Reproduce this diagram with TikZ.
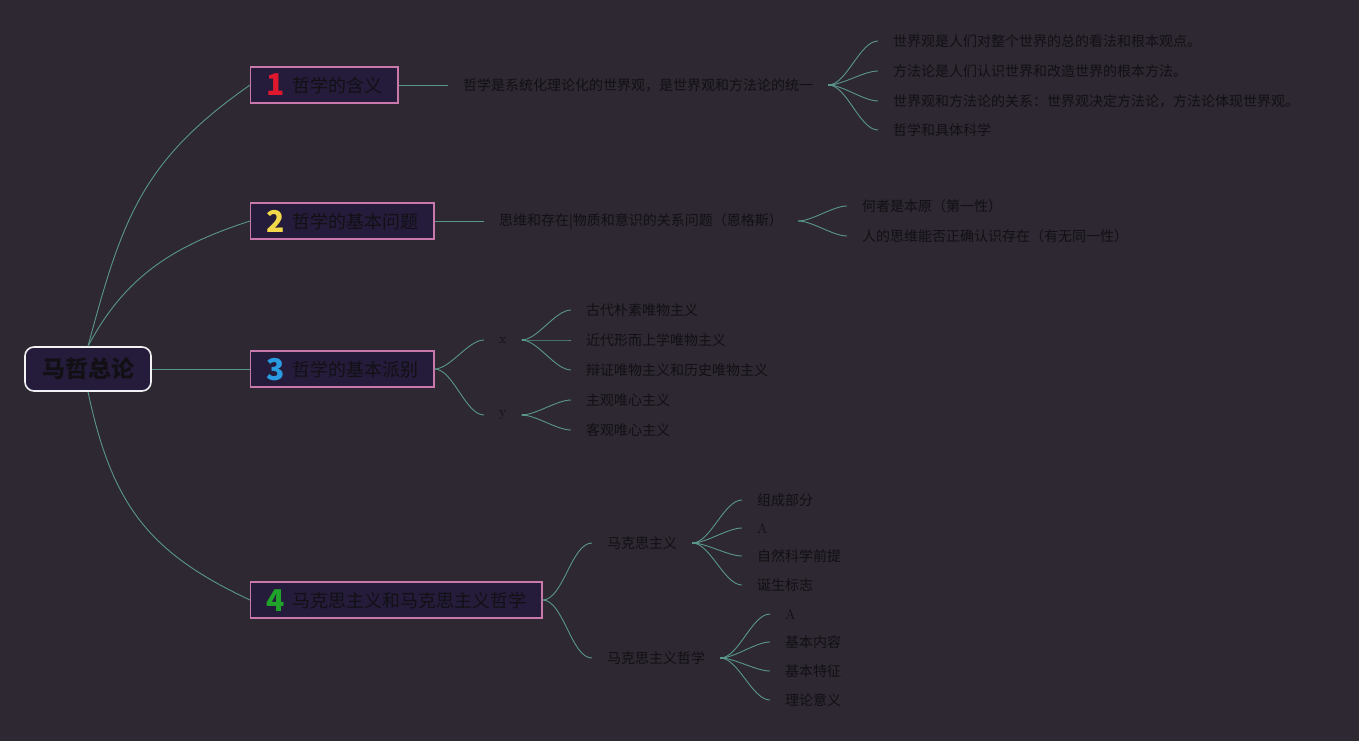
\documentclass[tikz,border=0pt]{standalone}
\usepackage{fontspec}
\usepackage{tikz}
\usetikzlibrary{positioning}
\newfontfamily\cjk{Noto Sans CJK SC}
\definecolor{mapbg}{HTML}{2D2832}
\definecolor{topicfill}{HTML}{251C3C}
\definecolor{topicpink}{HTML}{C878AA}
\definecolor{rootwhite}{HTML}{F2F2F2}
\definecolor{linkteal}{HTML}{5A968C}
\definecolor{ink}{HTML}{121014}
\definecolor{numred}{HTML}{E0182D}
\definecolor{numyellow}{HTML}{F2D84A}
\definecolor{numblue}{HTML}{2A9BE0}
\definecolor{numgreen}{HTML}{1FA32A}
\tikzset{
  root/.style={
    draw=rootwhite, fill=topicfill, line width=1.6pt,
    rounded corners=9pt, inner sep=0pt,
    minimum width=126pt, minimum height=44pt,
    font=\cjk\bfseries\fontsize{23}{25}\selectfont, text=ink
  },
  topic/.style={
    draw=topicpink, fill=topicfill, line width=1.3pt,
    anchor=west, inner xsep=15.5pt, inner ysep=0pt,
    minimum height=36pt, text height=17pt, text depth=2pt,
    font=\cjk\fontsize{18}{20}\selectfont, text=ink
  },
  sub/.style={
    anchor=west, inner xsep=15pt, inner ysep=2pt,
    font=\cjk\fontsize{14}{16}\selectfont, text=ink
  },
  latin/.style={font=\fontsize{14}{16}\selectfont},
  leaf/.style={sub},
  link/.style={draw=linkteal, line width=0.9pt},
  fan/.style={link, out=0, in=180, looseness=0.7},
  stub/.style={draw=linkteal, line width=2.6pt},
}
\newcommand{\topicnum}[2]{\raisebox{-3.5pt}[0pt][0pt]{\color{#1}\bfseries\fontsize{30}{30}\selectfont #2}\hspace{8pt}}

\begin{document}
\begin{tikzpicture}[x=1pt, y=-1pt]
  \fill[mapbg] (0,0) rectangle (1359,741);
  \useasboundingbox (0,0) rectangle (1359,741);

  \node[root] (mazhe) at (88,369) {马哲总论};

  \node[topic] (hanyi)  at (250,85)  {\topicnum{numred}{1}哲学的含义};
  \node[topic] (wenti)  at (250,221) {\topicnum{numyellow}{2}哲学的基本问题};
  \node[topic] (paibie) at (250,369) {\topicnum{numblue}{3}哲学的基本派别};
  \node[topic] (makesi) at (250,600) {\topicnum{numgreen}{4}马克思主义和马克思主义哲学};

  \draw[link] (mazhe.north) to[out=75, in=215, looseness=1.1] (hanyi.west);
  \draw[link] (mazhe.north) to[out=62, in=198] (wenti.west);
  \draw[link] (mazhe.east) -- (paibie.west);
  \draw[link] (mazhe.south) to[out=-78, in=155, looseness=1.1] (makesi.west);

  \node[sub] (tongyi) at (448,85)  {哲学是系统化理论化的世界观，是世界观和方法论的统一};
  \node[sub] (guanxi) at (484,221) {思维和存在|物质和意识的关系问题（恩格斯）};
  \node[sub, latin] (px) at (484,340) {x};
  \node[sub, latin] (py) at (484,415) {y};
  \node[sub] (mks)   at (592,543) {马克思主义};
  \node[sub] (mkszx) at (592,658) {马克思主义哲学};

  \draw[link] (hanyi.east) -- (tongyi.west);
  \draw[link] (wenti.east) -- (guanxi.west);
  \draw[fan] (paibie.east) to (px.west);
  \draw[fan] (paibie.east) to (py.west);
  \draw[fan] (makesi.east) to (mks.west);
  \draw[fan] (makesi.east) to (mkszx.west);

  \node[leaf] (sjg)  at (878,41)  {世界观是人们对整个世界的总的看法和根本观点。};
  \node[leaf] (ffl)  at (878,71)  {方法论是人们认识世界和改造世界的根本方法。};
  \node[leaf] (gx)   at (878,101) {世界观和方法论的关系：世界观决定方法论，方法论体现世界观。};
  \node[leaf] (jtkx) at (878,130) {哲学和具体科学};
  \draw[stub] (tongyi.east) -- +(7pt,0);
  \draw[fan] (tongyi.east) to (sjg.west);
  \draw[fan] (tongyi.east) to (ffl.west);
  \draw[fan] (tongyi.east) to (gx.west);
  \draw[fan] (tongyi.east) to (jtkx.west);

  \node[leaf] (benyuan) at (847,206) {何者是本原（第一性）};
  \node[leaf] (tongyx)  at (847,236) {人的思维能否正确认识存在（有无同一性）};
  \draw[fan] (guanxi.east) to (benyuan.west);
  \draw[fan] (guanxi.east) to (tongyx.west);

  \node[leaf] (gudai)  at (571,310) {古代朴素唯物主义};
  \node[leaf] (jindai) at (571,340) {近代形而上学唯物主义};
  \node[leaf] (bianz)  at (571,370) {辩证唯物主义和历史唯物主义};
  \node[leaf] (zhug)   at (571,400) {主观唯心主义};
  \node[leaf] (keg)    at (571,430) {客观唯心主义};
  \draw[stub] (px.east) -- +(4pt,0);
  \draw[fan] (px.east) to (gudai.west);
  \draw[fan] (px.east) to (jindai.west);
  \draw[fan] (px.east) to (bianz.west);
  \draw[stub] (py.east) -- +(4pt,0);
  \draw[fan] (py.east) to (zhug.west);
  \draw[fan] (py.east) to (keg.west);

  \node[leaf] (zucheng) at (742,500) {组成部分};
  \node[leaf, latin] (ma) at (742,528) {A};
  \node[leaf] (ziran)   at (742,556) {自然科学前提};
  \node[leaf] (dansheng) at (742,585) {诞生标志};
  \draw[stub] (mks.east) -- +(7pt,0);
  \draw[fan] (mks.east) to (zucheng.west);
  \draw[fan] (mks.east) to (ma.west);
  \draw[fan] (mks.east) to (ziran.west);
  \draw[fan] (mks.east) to (dansheng.west);

  \node[leaf, latin] (za) at (770,614) {A};
  \node[leaf] (neirong) at (770,642) {基本内容};
  \node[leaf] (tezheng) at (770,671) {基本特征};
  \node[leaf] (yiyi)    at (770,700) {理论意义};
  \draw[stub] (mkszx.east) -- +(7pt,0);
  \draw[fan] (mkszx.east) to (za.west);
  \draw[fan] (mkszx.east) to (neirong.west);
  \draw[fan] (mkszx.east) to (tezheng.west);
  \draw[fan] (mkszx.east) to (yiyi.west);
\end{tikzpicture}
\end{document}
